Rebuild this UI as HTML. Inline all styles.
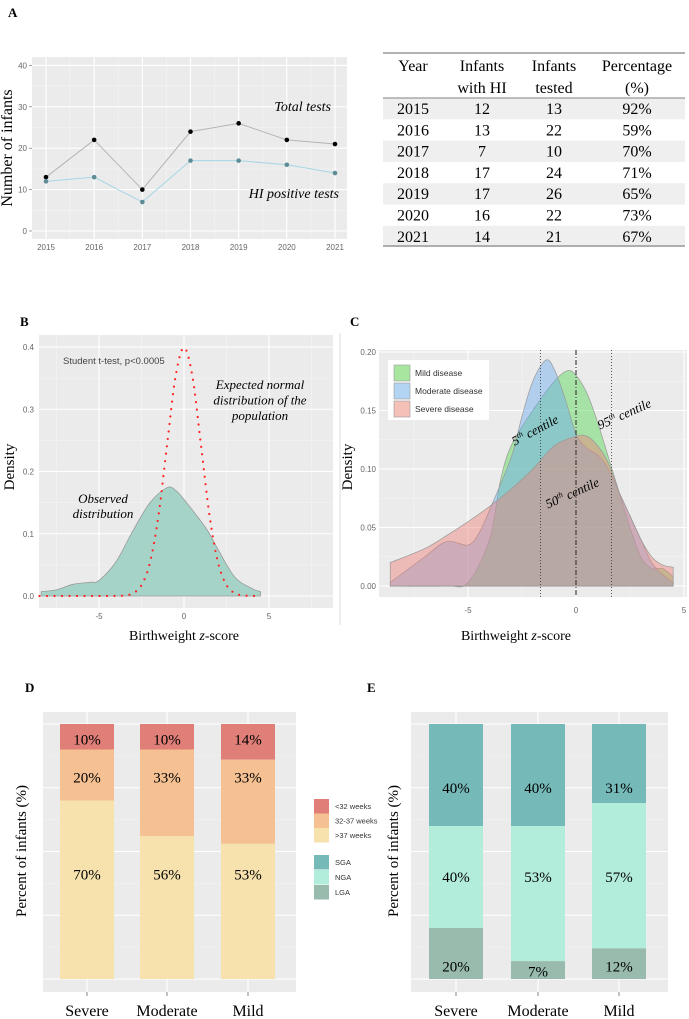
<!DOCTYPE html>
<html><head><meta charset="utf-8"><style>
html,body{margin:0;padding:0;background:#fff;}
svg{display:block;}
.serif{font-family:"Liberation Serif",serif;}
.sans{font-family:"Liberation Sans",sans-serif;}
.tick{font-family:"Liberation Sans",sans-serif;font-size:8px;fill:#666;}
</style></head><body>
<svg id="fig" width="689" height="1019" viewBox="0 0 689 1019" xmlns="http://www.w3.org/2000/svg">
<text x="8" y="17" class="serif" font-size="13" font-weight="bold">A</text>
<text x="20" y="326" class="serif" font-size="13" font-weight="bold">B</text>
<text x="350" y="326" class="serif" font-size="13" font-weight="bold">C</text>
<text x="25" y="692" class="serif" font-size="13" font-weight="bold">D</text>
<text x="367" y="692" class="serif" font-size="13" font-weight="bold">E</text>
<line x1="340" y1="333" x2="340" y2="625" stroke="#ddd" stroke-width="1"/>
<g id="table"></g>
<g id="pa"></g>
<g id="pb"></g>
<g id="pc"></g>
<g id="pd"></g>
<g id="pe"></g>
<g id="lg"></g>
</svg>
<script>
// ---- Panel A data ----
const years = [2015,2016,2017,2018,2019,2020,2021];
const totalTests = [13,22,10,24,26,22,21];
const hiPositive = [12,13,7,17,17,16,14];
const yTicksA = [0,10,20,30,40];
// ---- Table data ----
const tabWithHI = [12,13,7,17,17,16,14];
const tabTested = [13,22,10,24,26,22,21];
const tabPct = ["92%","59%","70%","71%","65%","73%","67%"];
// ---- Panel B data ----
const zObs = [-8.4,-7.5,-6.5,-5.5,-5,-4,-3,-2,-1,-0.5,0,1,1.5,2,3,4,4.5];
const dObs = [0.007,0.01,0.019,0.022,0.025,0.055,0.105,0.15,0.174,0.17,0.155,0.12,0.1,0.075,0.03,0.012,0.007];
const zNorm = [-8.5,-8,-7.5,-7,-6.5,-6,-5.5,-5,-4.5,-4,-3.5,-3,-2.5,-2,-1.5,-1,-0.5,0,0.5,1,1.5,2,2.5,3,3.5,4,4.5];
const dNorm = [0,0,0,0,0,0,0,0,0,0.0001,0.0009,0.0044,0.0175,0.054,0.1295,0.242,0.352,0.399,0.352,0.242,0.1295,0.054,0.0175,0.0044,0.0009,0.0001,0];
const yTicksB = [0,0.1,0.2,0.3,0.4];
const xTicksZ = [-5,0,5];
// ---- Panel C data ----
const zMild = [-8.6,-6,-5,-4,-3.5,-3,-2,-1,-0.4,0,0.5,1,1.5,2,2.5,3,3.5,4,4.5];
const dMild = [0,0,0.003,0.04,0.09,0.12,0.15,0.175,0.184,0.18,0.165,0.14,0.11,0.08,0.05,0.025,0.015,0.015,0.008];
const zMod = [-8.6,-7,-6,-5,-4.5,-4,-3,-2.5,-2,-1.4,-1,-0.5,0,0.5,1,1.5,2,2.5,3,3.5,4,4.5];
const dMod = [0.003,0.025,0.038,0.035,0.045,0.065,0.11,0.145,0.175,0.193,0.185,0.16,0.13,0.118,0.112,0.1,0.08,0.06,0.04,0.02,0.01,0.003];
const zSev = [-8.6,-7,-6,-5,-4,-3,-2,-1,0,0.5,1,1.5,2,2.5,3,3.5,4,4.5];
const dSev = [0.02,0.032,0.043,0.055,0.068,0.083,0.1,0.12,0.128,0.128,0.12,0.105,0.08,0.06,0.04,0.025,0.018,0.016];
const centiles = [-1.645,0,1.645];
const yTicksC = [0,0.05,0.1,0.15,0.2];
// ---- Panel D / E data ----
const groups = ["Severe","Moderate","Mild"];
const gaLt32 = [10,10,14];
const ga3237 = [20,34,33];
const gaGt37 = [70,56,53];
const gaLabels = [["10%","20%","70%"],["10%","33%","56%"],["14%","33%","53%"]];
const sga = [40,40,31];
const nga = [40,53,57];
const lga = [20,7,12];
const bwLabels = [["40%","40%","20%"],["40%","53%","7%"],["31%","57%","12%"]];

const NS='http://www.w3.org/2000/svg';
function mk(tag, attrs, parent){const e=document.createElementNS(NS,tag);for(const k in attrs)e.setAttribute(k,attrs[k]);parent.appendChild(e);return e;}
function smooth(p){let d='M'+p[0][0]+','+p[0][1];for(let i=0;i<p.length-1;i++){const p0=p[i-1]||p[i],p1=p[i],p2=p[i+1],p3=p[i+2]||p2;const c1x=p1[0]+(p2[0]-p0[0])/6,c1y=p1[1]+(p2[1]-p0[1])/6,c2x=p2[0]-(p3[0]-p1[0])/6,c2y=p2[1]-(p3[1]-p1[1])/6;d+=' C'+c1x+','+c1y+' '+c2x+','+c2y+' '+p2[0]+','+p2[1];}return d;}

function panelBg(g,x0,y0,x1,y1,vMaj,vMin,hMaj,hMin,name){
  const r=mk('rect',{x:x0,y:y0,width:x1-x0,height:y1-y0,fill:'#ebebeb'},g);
  
  
  vMin.forEach(x=>{const l=mk('line',{x1:x,x2:x,y1:y0,y2:y1,stroke:'#f5f5f5','stroke-width':0.6},g);
    
    });
  hMin.forEach(y=>{const l=mk('line',{x1:x0,x2:x1,y1:y,y2:y,stroke:'#f5f5f5','stroke-width':0.6},g);
    
    });
  vMaj.forEach(x=>{const l=mk('line',{x1:x,x2:x,y1:y0,y2:y1,stroke:'#fff','stroke-width':1.1},g);
    
    });
  hMaj.forEach(y=>{const l=mk('line',{x1:x0,x2:x1,y1:y,y2:y,stroke:'#fff','stroke-width':1.1},g);
    
    });
}
function txt(g,x,y,s,cls,size,anchor,extra){const t=mk('text',Object.assign({x:x,y:y,'font-size':size,'text-anchor':anchor||'start'},extra||{}),g);t.setAttribute('class',cls);t.textContent=s;return t;}

// ===== Panel A =====
(function(){
  const g=document.getElementById('pa');
  const xA=yr=>46+(yr-2015)*(289/6), yA=v=>231-v*4.14;
  const maj=years.map(xA), mn=[];for(let i=0;i<years.length-1;i++)mn.push((maj[i]+maj[i+1])/2);
  const hmin=[5,15,25,35].map(yA);
  panelBg(g,32,57,347,239,maj,mn,yTicksA.map(yA),hmin,'panel-a');
  yTicksA.forEach(v=>{const t=txt(g,27,yA(v)+3,String(v),'tick',8,'end');
    
    
    const l=mk('line',{x1:29,x2:32,y1:yA(v),y2:yA(v),stroke:'#666','stroke-width':0.6},g);
    
    });
  years.forEach(yr=>{const t=txt(g,xA(yr),250,String(yr),'tick',8,'middle');
    
    });
  const lt=mk('polyline',{points:years.map((y,i)=>xA(y)+','+yA(totalTests[i])).join(' '),fill:'none',stroke:'#b5b5b5','stroke-width':1},g);
  
  
  const lh=mk('polyline',{points:years.map((y,i)=>xA(y)+','+yA(hiPositive[i])).join(' '),fill:'none',stroke:'#a6d6e6','stroke-width':1},g);
  
  
  years.forEach((y,i)=>{const c=mk('circle',{cx:xA(y),cy:yA(totalTests[i]),r:2.3,fill:'#000'},g);
    
    
    const c2=mk('circle',{cx:xA(y),cy:yA(hiPositive[i]),r:2.3,fill:'#5e8c96'},g);
    
    });
  const a1=txt(g,331,111,'Total tests','serif',14,'end',{'font-style':'italic'});
  
  
  const a2=txt(g,339,198,'HI positive tests','serif',14,'end',{'font-style':'italic'});
  
  
  const yt=txt(g,0,0,'Number of infants','serif',16,'middle',{transform:'translate(12,148) rotate(-90)'});
  
  
})();

// ===== Table =====
(function(){
  const g=document.getElementById('table');
  const cx=[413,482,554,637], x0=383,x1=685, r0=98, rh=21.3;
  years.forEach((y,i)=>{ if(i%2===0){const r=mk('rect',{x:x0,y:r0+i*rh,width:x1-x0,height:rh,fill:'#efefef'},g);
    
    }});
  [[53,1.5],[98,1.2],[246,1.5]].forEach(([y,w])=>{const l=mk('line',{x1:x0,x2:x1,y1:y,y2:y,stroke:'#999','stroke-width':w},g);
    
    });
  const hdr=[['Year',''],['Infants','with HI'],['Infants','tested'],['Percentage','(%)']];
  hdr.forEach((h,j)=>{const t=txt(g,cx[j],71,h[0],'serif',16,'middle');
    
    
    if(h[1]){const t2=txt(g,cx[j],93,h[1],'serif',16,'middle');
    
    }});
  years.forEach((y,i)=>{const yy=r0+i*rh+16;
    [String(y),String(tabWithHI[i]),String(tabTested[i]),tabPct[i]].forEach((v,j)=>{
      const t=txt(g,cx[j],yy,v,'serif',16,'middle');
      
      });});
})();

// ===== Panel B =====
(function(){
  const g=document.getElementById('pb');
  const xB=z=>184+z*17, yB=d=>596-d*622.5;
  panelBg(g,39,335,333,608,xTicksZ.map(xB),[-7.5,-2.5,2.5,7.5].map(xB),yTicksB.map(yB),[0.05,0.15,0.25,0.35].map(yB),'panel-b');
  yTicksB.forEach(v=>{const t=txt(g,34,yB(v)+3,v.toFixed(1),'tick',8,'end');
    
    });
  xTicksZ.forEach(v=>{const t=txt(g,xB(v),619,String(v),'tick',8,'middle');
    
    });
  const pts=zObs.map((z,i)=>[xB(z),yB(dObs[i])]);
  const a=mk('path',{d:smooth(pts)+' L'+xB(zObs[zObs.length-1])+','+yB(0)+' L'+xB(zObs[0])+','+yB(0)+' Z',fill:'#a6d3c8',stroke:'#9a9a9a','stroke-width':0.8},g);
  
  
  const n=mk('path',{d:smooth(zNorm.map((z,i)=>[xB(z),yB(dNorm[i])])),fill:'none',stroke:'#ff2020','stroke-width':2.2,'stroke-linecap':'round','stroke-dasharray':'0 7.5'},g);
  
  
  const s=txt(g,63,364,'Student t-test, p<0.0005','sans',9.5,'start',{fill:'#444'});
  
  
  ['Expected normal','distribution of the','population'].forEach((l,i)=>{const t=txt(g,260,389+i*15.5,l,'serif',13,'middle',{'font-style':'italic'});
    
    });
  ['Observed','distribution'].forEach((l,i)=>{const t=txt(g,103,503+i*15,l,'serif',13,'middle',{'font-style':'italic'});
    
    });
  const yt=txt(g,0,0,'Density','serif',15,'middle',{transform:'translate(14,467) rotate(-90)'});
  
  
  const xt=mk('text',{x:184,y:640,'font-size':14,'text-anchor':'middle'},g);xt.setAttribute('class','serif');
  xt.innerHTML='Birthweight <tspan font-style="italic">z</tspan>-score';
  
  
})();

// ===== Panel C =====
(function(){
  const g=document.getElementById('pc');
  const xC=z=>576+z*21.6, yC=d=>586-d*1170;
  panelBg(g,379,350,687,597,xTicksZ.map(xC),[-7.5,-2.5,2.5].map(xC),yTicksC.map(yC),[0.025,0.075,0.125,0.175].map(yC),'panel-c');
  yTicksC.forEach(v=>{const t=txt(g,376,yC(v)+3,v.toFixed(2),'tick',8,'end');
    
    });
  xTicksZ.forEach(v=>{const t=txt(g,Math.min(xC(v),684),613,String(v),'tick',8,'middle');
    
    });
  const series=[[zMild,dMild,'#52d452','mild-disease-density'],[zMod,dMod,'#6aaaf0','moderate-disease-density'],[zSev,dSev,'#f08078','severe-disease-density']];
  series.forEach(([zs,ds,col,nm])=>{const p=zs.map((z,i)=>[xC(z),yC(ds[i])]);
    const a=mk('path',{d:smooth(p)+' L'+xC(zs[zs.length-1])+','+yC(0)+' L'+xC(zs[0])+','+yC(0)+' Z',fill:col,'fill-opacity':0.45,stroke:'#999','stroke-width':0.7},g);
    
    });
  centiles.forEach((c,i)=>{const l=mk('line',{x1:xC(c),x2:xC(c),y1:350,y2:597,stroke:'#333','stroke-width':i===1?1.1:0.8,'stroke-dasharray':i===1?'5 2 1 2':'1 2'},g);
    
    });
  [['5','th centile',537,434,-28],['95','th centile',626,418,-24],['50','th centile',574,497,-24]].forEach(([n,s,x,y,r])=>{
    const t=mk('text',{x:0,y:0,'font-size':13,'text-anchor':'middle','font-style':'italic',transform:'translate('+x+','+y+') rotate('+r+')'},g);
    t.setAttribute('class','serif');
    t.innerHTML=n+'<tspan font-size="8" dy="-5">th</tspan><tspan dy="5"> centile</tspan>';
    
    });
  const lb=mk('rect',{x:388,y:360,width:101,height:60,fill:'#fff'},g);
  
  
  [['Mild disease','#a8e6a0'],['Moderate disease','#b3d4f2'],['Severe disease','#f4c0b8']].forEach(([l,c],i)=>{
    const r=mk('rect',{x:394,y:365+i*18,width:16,height:16,fill:c,stroke:'#999','stroke-width':0.6},g);
    
    
    const t=txt(g,415,376+i*18,l,'sans',8.5,'start',{fill:'#333'});
    
    });
  const yt=txt(g,0,0,'Density','serif',15,'middle',{transform:'translate(352,467) rotate(-90)'});
  
  
  const xt=mk('text',{x:516,y:640,'font-size':14,'text-anchor':'middle'},g);xt.setAttribute('class','serif');
  xt.innerHTML='Birthweight <tspan font-style="italic">z</tspan>-score';
  
  
})();

// ===== Panels D & E =====
function stackPanel(id,x0,x1,barX,stacks,colors,labels,labelLevels,nm,ytx){
  const g=document.getElementById(id);
  const yP=p=>979-p*2.55;
  const bw=54;
  panelBg(g,x0,712,x1,992,barX.map(x=>x+bw/2),[],[0,25,50,75,100].map(yP),[12.5,37.5,62.5,87.5].map(yP),nm);
  groups.forEach((grp,i)=>{
    let top=100;
    stacks.forEach((arr,k)=>{const v=arr[i];
      const r=mk('rect',{x:barX[i],y:yP(top),width:bw,height:v*2.55,fill:colors[k]},g);
      
      
      top-=v;});
    labels[i].forEach((s,k)=>{const lv=labelLevels[i][k];
      const t=txt(g,barX[i]+bw/2,yP(lv)+5,s,'serif',15,'middle');
      
      });
    const tk=mk('line',{x1:barX[i]+bw/2,x2:barX[i]+bw/2,y1:992,y2:996,stroke:'#666','stroke-width':0.8},g);
    
    
    const xl=txt(g,barX[i]+bw/2,1016,grp,'serif',16,'middle');
    
    
  });
  const yt=txt(g,0,0,'Percent of infants (%)','serif',15,'middle',{transform:'translate('+ytx+',851) rotate(-90)'});
  
  
}
stackPanel('pd',43,296,[60,140,221],[gaLt32,ga3237,gaGt37],['#e07e78','#f5c092','#f7e2ae'],gaLabels,
  [[94,79,41],[94,79,41],[94,79,41]],'panel-d',26);
stackPanel('pe',411,668,[429,511,592],[sga,nga,lga],['#76b9b9','#b2ecda','#98bbae'],bwLabels,
  [[75,40,5],[75,40,3],[75,40,5]],'panel-e',398);

// ===== Shared legend =====
(function(){
  const g=document.getElementById('lg');
  [['<32 weeks','#e07e78',799],['32-37 weeks','#f5c092',813.5],['>37 weeks','#f7e2ae',828],['SGA','#76b9b9',855],['NGA','#b2ecda',870],['LGA','#98bbae',885]].forEach(([l,c,y])=>{
    const r=mk('rect',{x:314,y:y,width:15,height:14.5,fill:c},g);
    
    
    const t=txt(g,335,y+10,l,'sans',7.5,'start',{fill:'#333'});
    
    });
})();
</script>
</body></html>
